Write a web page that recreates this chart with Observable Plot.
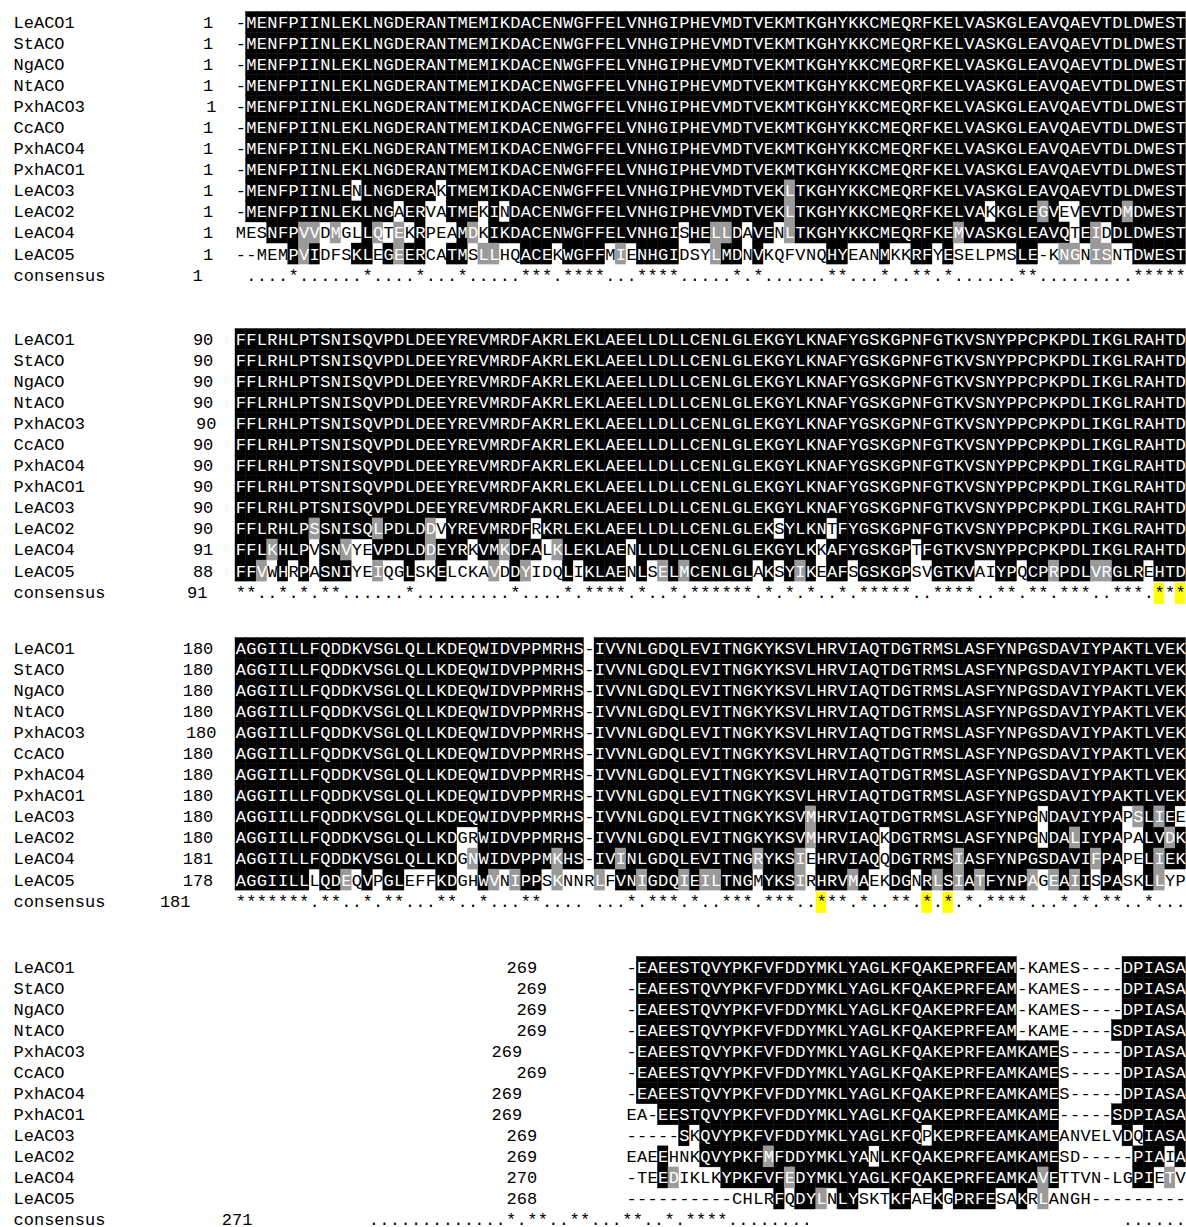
<!DOCTYPE html>
<html><head><meta charset="utf-8">
<script src="https://cdn.jsdelivr.net/npm/d3@7"></script>
<script src="https://cdn.jsdelivr.net/npm/@observablehq/plot@0.6"></script>
<style>body{margin:0;background:#fff}#chart svg{display:block}</style>
</head><body><div id="chart"></div><script>
// ---------- data ----------
const names = ["LeACO1","StACO","NgACO","NtACO","PxhACO3","CcACO","PxhACO4","PxhACO1","LeACO3","LeACO2","LeACO4","LeACO5"];
const consensusName = "consensus";

const seqBlock1 = [
"-MENFPIINLEKLNGDERANTMEMIKDACENWGFFELVNHGIPHEVMDTVEKMTKGHYKKCMEQRFKELVASKGLEAVQAEVTDLDWEST",
"-MENFPIINLEKLNGDERANTMEMIKDACENWGFFELVNHGIPHEVMDTVEKMTKGHYKKCMEQRFKELVASKGLEAVQAEVTDLDWEST",
"-MENFPIINLEKLNGDERANTMEMIKDACENWGFFELVNHGIPHEVMDTVEKMTKGHYKKCMEQRFKELVASKGLEAVQAEVTDLDWEST",
"-MENFPIINLEKLNGDERANTMEMIKDACENWGFFELVNHGIPHEVMDTVEKMTKGHYKKCMEQRFKELVASKGLEAVQAEVTDLDWEST",
"-MENFPIINLEKLNGDERANTMEMIKDACENWGFFELVNHGIPHEVMDTVEKMTKGHYKKCMEQRFKELVASKGLEAVQAEVTDLDWEST",
"-MENFPIINLEKLNGDERANTMEMIKDACENWGFFELVNHGIPHEVMDTVEKMTKGHYKKCMEQRFKELVASKGLEAVQAEVTDLDWEST",
"-MENFPIINLEKLNGDERANTMEMIKDACENWGFFELVNHGIPHEVMDTVEKMTKGHYKKCMEQRFKELVASKGLEAVQAEVTDLDWEST",
"-MENFPIINLEKLNGDERANTMEMIKDACENWGFFELVNHGIPHEVMDTVEKMTKGHYKKCMEQRFKELVASKGLEAVQAEVTDLDWEST",
"-MENFPIINLENLNGDERAKTMEMIKDACENWGFFELVNHGIPHEVMDTVEKLTKGHYKKCMEQRFKELVASKGLEAVQAEVTDLDWEST",
"-MENFPIINLEKLNGAERVATMEKINDACENWGFFELVNHGIPHEVMDTVEKLTKGHYKKCMEQRFKELVAKKGLEGVEVEVTDMDWEST",
"MESNFPVVDMGLLQTEKRPEAMDKIKDACENWGFFELVNHGISHELLDAVENLTKGHYKKCMEQRFKEMVASKGLEAVQTEIDDLDWEST",
"--MEMPVIDFSKLEGEERCATMSLLHQACEKWGFFMIENHGIDSYLMDNVKQFVNQHYEANMKKRFYESELPMSLE-KNGNISNTDWEST"
];
const seqBlock2 = [
"FFLRHLPTSNISQVPDLDEEYREVMRDFAKRLEKLAEELLDLLCENLGLEKGYLKNAFYGSKGPNFGTKVSNYPPCPKPDLIKGLRAHTD",
"FFLRHLPTSNISQVPDLDEEYREVMRDFAKRLEKLAEELLDLLCENLGLEKGYLKNAFYGSKGPNFGTKVSNYPPCPKPDLIKGLRAHTD",
"FFLRHLPTSNISQVPDLDEEYREVMRDFAKRLEKLAEELLDLLCENLGLEKGYLKNAFYGSKGPNFGTKVSNYPPCPKPDLIKGLRAHTD",
"FFLRHLPTSNISQVPDLDEEYREVMRDFAKRLEKLAEELLDLLCENLGLEKGYLKNAFYGSKGPNFGTKVSNYPPCPKPDLIKGLRAHTD",
"FFLRHLPTSNISQVPDLDEEYREVMRDFAKRLEKLAEELLDLLCENLGLEKGYLKNAFYGSKGPNFGTKVSNYPPCPKPDLIKGLRAHTD",
"FFLRHLPTSNISQVPDLDEEYREVMRDFAKRLEKLAEELLDLLCENLGLEKGYLKNAFYGSKGPNFGTKVSNYPPCPKPDLIKGLRAHTD",
"FFLRHLPTSNISQVPDLDEEYREVMRDFAKRLEKLAEELLDLLCENLGLEKGYLKNAFYGSKGPNFGTKVSNYPPCPKPDLIKGLRAHTD",
"FFLRHLPTSNISQVPDLDEEYREVMRDFAKRLEKLAEELLDLLCENLGLEKGYLKNAFYGSKGPNFGTKVSNYPPCPKPDLIKGLRAHTD",
"FFLRHLPTSNISQVPDLDEEYREVMRDFAKRLEKLAEELLDLLCENLGLEKGYLKNAFYGSKGPNFGTKVSNYPPCPKPDLIKGLRAHTD",
"FFLRHLPSSNISQLPDLDDVYREVMRDFRKRLEKLAEELLDLLCENLGLEKSYLKNTFYGSKGPNFGTKVSNYPPCPKPDLIKGLRAHTD",
"FFLKHLPVSNVYEVPDLDDEYRKVMKDFALKLEKLAENLLDLLCENLGLEKGYLKKAFYGSKGPTFGTKVSNYPPCPKPDLIKGLRAHTD",
"FFVWHRPASNIYEIQGLSKELCKAVDDYIDQLIKLAENLSELMCENLGLAKSYIKEAFSGSKGPSVGTKVAIYPQCPRPDLVRGLREHTD"
];
const seqBlock3 = [
"AGGIILLFQDDKVSGLQLLKDEQWIDVPPMRHS-IVVNLGDQLEVITNGKYKSVLHRVIAQTDGTRMSLASFYNPGSDAVIYPAKTLVEK",
"AGGIILLFQDDKVSGLQLLKDEQWIDVPPMRHS-IVVNLGDQLEVITNGKYKSVLHRVIAQTDGTRMSLASFYNPGSDAVIYPAKTLVEK",
"AGGIILLFQDDKVSGLQLLKDEQWIDVPPMRHS-IVVNLGDQLEVITNGKYKSVLHRVIAQTDGTRMSLASFYNPGSDAVIYPAKTLVEK",
"AGGIILLFQDDKVSGLQLLKDEQWIDVPPMRHS-IVVNLGDQLEVITNGKYKSVLHRVIAQTDGTRMSLASFYNPGSDAVIYPAKTLVEK",
"AGGIILLFQDDKVSGLQLLKDEQWIDVPPMRHS-IVVNLGDQLEVITNGKYKSVLHRVIAQTDGTRMSLASFYNPGSDAVIYPAKTLVEK",
"AGGIILLFQDDKVSGLQLLKDEQWIDVPPMRHS-IVVNLGDQLEVITNGKYKSVLHRVIAQTDGTRMSLASFYNPGSDAVIYPAKTLVEK",
"AGGIILLFQDDKVSGLQLLKDEQWIDVPPMRHS-IVVNLGDQLEVITNGKYKSVLHRVIAQTDGTRMSLASFYNPGSDAVIYPAKTLVEK",
"AGGIILLFQDDKVSGLQLLKDEQWIDVPPMRHS-IVVNLGDQLEVITNGKYKSVLHRVIAQTDGTRMSLASFYNPGSDAVIYPAKTLVEK",
"AGGIILLFQDDKVSGLQLLKDEQWIDVPPMRHS-IVVNLGDQLEVITNGKYKSVMHRVIAQTDGTRMSLASFYNPGNDAVIYPAPSLIEE",
"AGGIILLFQDDKVSGLQLLKDGRWIDVPPMRHS-IVVNLGDQLEVITNGKYKSVMHRVIAQKDGTRMSLASFYNPGNDALIYPAPALVDK",
"AGGIILLFQDDKVSGLQLLKDGNWIDVPPMKHS-IVINLGDQLEVITNGRYKSIEHRVIAQQDGTRMSIASFYNPGSDAVIFPAPELIEK",
"AGGIILLLQDEQVPGLEFFKDGHWVNIPPSKNNRLFVNIGDQIEILTNGMYKSIRHRVMAEKDGNRLSIATFYNPAGEAIISPASKLLYP"
];
const seqBlock4 = [
"-EAEESTQVYPKFVFDDYMKLYAGLKFQAKEPRFEAM-KAMES----DPIASA",
"-EAEESTQVYPKFVFDDYMKLYAGLKFQAKEPRFEAM-KAMES----DPIASA",
"-EAEESTQVYPKFVFDDYMKLYAGLKFQAKEPRFEAM-KAMES----DPIASA",
"-EAEESTQVYPKFVFDDYMKLYAGLKFQAKEPRFEAM-KAME----SDPIASA",
"-EAEESTQVYPKFVFDDYMKLYAGLKFQAKEPRFEAMKAMES-----DPIASA",
"-EAEESTQVYPKFVFDDYMKLYAGLKFQAKEPRFEAMKAMES-----DPIASA",
"-EAEESTQVYPKFVFDDYMKLYAGLKFQAKEPRFEAMKAMES-----DPIASA",
"EA-EESTQVYPKFVFDDYMKLYAGLKFQAKEPRFEAMKAME-----SDPIASA",
"-----SKQVYPKFVFDDYMKLYAGLKFQPKEPRFEAMKAMEANVELVDQIASA",
"EAEEHNKQVYPKFMFDDYMKLYANLKFQAKEPRFEAMKAMESD-----PIAIA",
"-TEEDIKLKYPKFVFEDYMKLYAGLKFQAKEPRFEAMKAVETTVN-LGPIETV",
"----------CHLRFQDYLNLYSKTKFAEKGPRFESAKRLANGH---------"
];
const startBlock1 = [1,1,1,1,1,1,1,1,1,1,1,1];
const startBlock2 = [90,90,90,90,90,90,90,90,90,90,91,88];
const startBlock3 = [180,180,180,180,180,180,180,180,180,180,181,178];
const startBlock4 = [269,269,269,269,269,269,269,269,269,269,270,268];
const consensusStart = [1,91,181,271];
// highlighted (yellow) consensus positions: block number, column within block
const highlightBlock = [2,2,3,3,3];
const highlightCol   = [87,89,55,65,67];

// ---------- layout (not data) ----------
const FONT = "'Liberation Mono','DejaVu Sans Mono',monospace";
const layout = {
  colOffset: [0,0,0,37],
  lineOffset: [0,15.06,29.74,44.89],
  consLine: 12.0,
  nameCol: -21.02,
  numEnd: [
    [-2.1,-2.1,-2.1,-2.1,-1.8,-2.1,-2.1,-2.1,-2.1,-2.1,-2.1,-2.1],
    [-2.1,-2.1,-2.1,-2.1,-1.8,-2.1,-2.1,-2.1,-2.1,-2.1,-2.1,-2.1],
    [-2.1,-2.1,-2.1,-2.1,-1.8,-2.1,-2.1,-2.1,-2.1,-2.1,-2.1,-2.1],
    [28.57,29.5,29.5,29.5,27.15,29.5,27.15,27.15,28.57,28.57,28.57,28.57]
  ],
  consNumEnd: [-3.1,-2.65,-4.26,1.6],
  consShift: -25.4, consSplit: 47
};

// ---------- derived ----------
const blocks = [seqBlock1, seqBlock2, seqBlock3, seqBlock4];
const starts = [startBlock1, startBlock2, startBlock3, startBlock4];
const groups = ["ILVM","FYW","KR","DE","ST","AG","NQ"];
const grp = ch => groups.find(g => g.includes(ch)) || ch;

const cells = [], cons = [], labels = [], nums = [];
blocks.forEach((rows, b) => {
  const L0 = layout.lineOffset[b], C0 = layout.colOffset[b];
  const n = rows[0].length;
  for (let c = 0; c < n; c++) {
    const col = rows.map(s => s[c] || "-");
    const idc = d3.rollup(col, v => v.length, d => d);
    const gc = d3.rollup(col.filter(ch => ch !== "-"), v => v.length, d => grp(d));
    const gaps = idc.get("-") || 0;
    const nonGap = col.length - gaps;
    col.forEach((ch, r) => {
      let shade = "w";
      if (ch !== "-") {
        const id = idc.get(ch);
        if (id >= 6 || (nonGap >= 4 && id * 2 >= nonGap)) shade = "b";
        else if (gc.get(grp(ch)) >= 6) shade = "g";
      }
      cells.push({gx: C0 + c, line: L0 + r, ch, shade});
    });
    let sym = " ";
    if (gaps < 7) sym = (gaps === 0 && idc.size === 1) ? "*" : ".";
    let gx = C0 + c;
    if (b === 3 && c < layout.consSplit) gx += layout.consShift;
    const hl = highlightBlock.some((hb, i) => hb === b + 1 && highlightCol[i] === c);
    if (sym !== " ") cons.push({gx, line: L0 + layout.consLine, sym, hl});
  }
  names.forEach((nm, r) => {
    labels.push({x: layout.nameCol, line: L0 + r, t: nm});
    nums.push({x: layout.numEnd[b][r], line: L0 + r, t: String(starts[b][r])});
  });
  labels.push({x: layout.nameCol, line: L0 + layout.consLine, t: consensusName});
  nums.push({x: layout.consNumEnd[b], line: L0 + layout.consLine, t: String(consensusStart[b])});
});

const rectOpts = (fill) => ({
  x1: d => d.gx, x2: d => d.gx + 1,
  y1: d => d.line - 0.5, y2: d => d.line + 0.5,
  fill, stroke: fill, strokeWidth: 0.4
});
const txt = (fill) => ({
  x: d => d.gx + 0.5, y: "line", text: "ch", fill,
  fontFamily: FONT, fontSize: 17
});

const chart = Plot.plot({
  width: 1186, height: 1227,
  marginTop: 0, marginRight: 0, marginBottom: 0, marginLeft: 0,
  x: {type: "linear", domain: [0, 90], range: [235, 1185.4], axis: null},
  y: {type: "linear", domain: [0, 58], range: [22, 22 + 58 * 21.05], axis: null},
  style: {background: "#fff"},
  marks: [
    Plot.rect(cons.filter(d => d.hl), {
      x1: d => d.gx, x2: d => d.gx + 1,
      y1: d => d.line - 0.42, y2: d => d.line + 0.58, fill: "#ffff00"
    }),
    Plot.rect(cells.filter(d => d.shade === "b"), rectOpts("#000000")),
    Plot.rect(cells.filter(d => d.shade === "g"), rectOpts("#9a9a9a")),
    Plot.text(cells.filter(d => d.shade !== "w"), txt("#ffffff")),
    Plot.text(cells.filter(d => d.shade === "w"), txt("#000000")),
    Plot.text(cons, {x: d => d.gx + 0.5, y: "line", text: "sym", fill: "#000",
      fontFamily: FONT, fontSize: 17}),
    Plot.text(labels, {x: "x", y: "line", text: "t", textAnchor: "start",
      fill: "#000", fontFamily: FONT, fontSize: 17}),
    Plot.text(nums, {x: "x", y: "line", text: "t", textAnchor: "end",
      fill: "#000", fontFamily: FONT, fontSize: 17})
  ]
});
document.getElementById("chart").appendChild(chart);
</script></body></html>
